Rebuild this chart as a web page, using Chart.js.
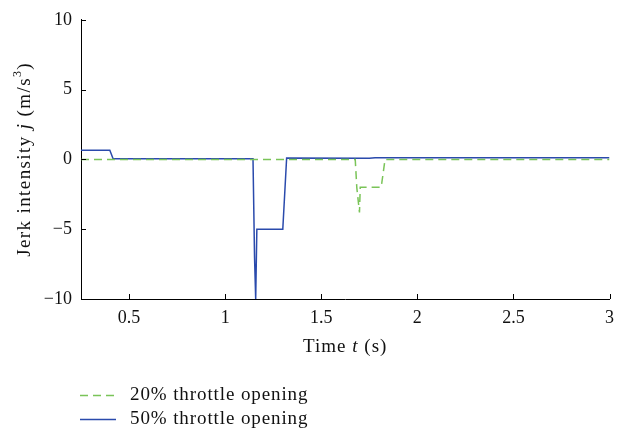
<!DOCTYPE html>
<html>
<head>
<meta charset="utf-8">
<script src="https://cdn.jsdelivr.net/npm/chart.js@4.4.1/dist/chart.umd.min.js"></script>
<style>
  html, body { margin: 0; padding: 0; background: #ffffff; }
  #wrap { width: 622px; height: 440px; position: relative; }
</style>
</head>
<body>
<div id="wrap"><canvas id="c" width="622" height="440"></canvas></div>
<script>
// Jerk intensity over time for two throttle openings
const time50 = [0.25, 0.40, 0.417, 1.145, 1.153, 1.159, 1.165, 1.30, 1.32, 1.75, 1.78, 3.0];
const jerk50 = [0.65, 0.65, 0.05, 0.05, -7.0, -10.0, -5.0, -5.0, 0.1, 0.08, 0.12, 0.12];

const time20 = [0.25, 1.677, 1.685, 1.699, 1.703, 1.812, 1.832, 3.0];
const jerk20 = [0.0, 0.0, -2.0, -3.8, -2.0, -2.0, 0.0, 0.0];

const xTickValues = [0.5, 1, 1.5, 2, 2.5, 3];
const yTickValues = [-10, -5, 0, 5, 10];

const seriesLabels = ['20% throttle opening', '50% throttle opening'];

const SERIF = '"Liberation Serif", "DejaVu Serif", serif';
const FONT_SIZE = 18;
const TEXT_SIZE = 19;
const BLUE = 'rgb(42, 74, 172)';
const GREEN = 'rgb(122, 196, 88)';
const GREEN_DASH = [8, 5];

function toPoints(xs, ys) {
  return xs.map((x, i) => ({ x: x, y: ys[i] }));
}

// Draws inward tick marks, axis titles with italic / superscript parts, and the legend
const decorations = {
  id: 'decorations',
  afterDraw(chart) {
    const ctx = chart.ctx;
    const area = chart.chartArea;
    const xs = chart.scales.x;
    const ys = chart.scales.y;
    ctx.save();

    // inward ticks
    ctx.strokeStyle = '#000';
    ctx.lineWidth = 1;
    ctx.beginPath();
    xTickValues.forEach(v => {
      const px = Math.round(xs.getPixelForValue(v)) + 0.5;
      ctx.moveTo(px, area.bottom);
      ctx.lineTo(px, area.bottom - 5);
    });
    yTickValues.forEach(v => {
      const py = Math.round(ys.getPixelForValue(v)) + 0.5;
      ctx.moveTo(area.left, py);
      ctx.lineTo(area.left + 5, py);
    });
    ctx.stroke();

    ctx.fillStyle = '#111';
    ctx.textBaseline = 'middle';

    // helpers for runs of mixed-style text
    function runsWidth(runs) {
      let w = 0;
      runs.forEach(r => { ctx.font = r.font; w += ctx.measureText(r.text).width; });
      return w;
    }
    function drawRuns(runs, x, y) {
      let cx = x;
      runs.forEach(r => {
        ctx.font = r.font;
        ctx.fillText(r.text, cx, y + (r.dy || 0));
        cx += ctx.measureText(r.text).width;
      });
    }
    const normal = TEXT_SIZE + 'px ' + SERIF;
    const italic = 'italic ' + TEXT_SIZE + 'px ' + SERIF;
    const sup = Math.round(TEXT_SIZE * 0.65) + 'px ' + SERIF;

    ctx.letterSpacing = '1px';

    // x axis title
    const xRuns = [
      { text: 'Time ', font: normal },
      { text: 't', font: italic },
      { text: ' (s)', font: normal }
    ];
    ctx.textAlign = 'left';
    const xw = runsWidth(xRuns);
    drawRuns(xRuns, (area.left + area.right) / 2 - xw / 2, 347);

    // y axis title (rotated)
    const yRuns = [
      { text: 'Jerk intensity ', font: normal },
      { text: 'j', font: italic },
      { text: ' (m/s', font: normal },
      { text: '3', font: sup, dy: -7 },
      { text: ')', font: normal }
    ];
    ctx.letterSpacing = '1.4px';
    const yw = runsWidth(yRuns);
    ctx.save();
    ctx.translate(25, (area.top + area.bottom) / 2);
    ctx.rotate(-Math.PI / 2);
    drawRuns(yRuns, -yw / 2, 0);
    ctx.restore();

    // legend
    ctx.letterSpacing = '0.9px';
    const legendRows = [
      { y: 395, color: GREEN, dash: GREEN_DASH, text: seriesLabels[0] },
      { y: 419, color: BLUE, dash: [], text: seriesLabels[1] }
    ];
    legendRows.forEach(row => {
      ctx.save();
      ctx.strokeStyle = row.color;
      ctx.lineWidth = 1.5;
      ctx.setLineDash(row.dash);
      ctx.beginPath();
      ctx.moveTo(80, row.y + 0.5);
      ctx.lineTo(116, row.y + 0.5);
      ctx.stroke();
      ctx.restore();
      ctx.font = normal;
      ctx.fillStyle = '#111';
      ctx.textAlign = 'left';
      ctx.fillText(row.text, 130, row.y);
    });

    ctx.restore();
  }
};

new Chart(document.getElementById('c'), {
  type: 'line',
  data: {
    datasets: [
      {
        label: seriesLabels[0],
        data: toPoints(time20, jerk20),
        borderColor: GREEN,
        borderWidth: 1.5,
        borderDash: GREEN_DASH,
        pointRadius: 0,
        tension: 0,
        fill: false
      },
      {
        label: seriesLabels[1],
        data: toPoints(time50, jerk50),
        borderColor: BLUE,
        borderWidth: 1.5,
        pointRadius: 0,
        tension: 0,
        fill: false
      }
    ]
  },
  options: {
    responsive: false,
    animation: false,
    events: [],
    layout: { padding: { top: 13, right: 12, left: 0, bottom: 0 } },
    plugins: {
      legend: { display: false },
      tooltip: { enabled: false },
      title: { display: false }
    },
    scales: {
      x: {
        type: 'linear',
        min: 0.25,
        max: 3,
        grid: { display: false, drawTicks: false },
        border: { display: true, color: '#000', width: 1 },
        afterBuildTicks(scale) { scale.ticks = xTickValues.map(v => ({ value: v })); },
        afterFit(scale) { scale.height = 141; },
        ticks: {
          padding: 8,
          color: '#111',
          font: { family: SERIF, size: FONT_SIZE },
          maxRotation: 0,
          autoSkip: false,
          callback: v => String(v)
        }
      },
      y: {
        type: 'linear',
        min: -10,
        max: 10,
        grid: { display: false, drawTicks: false },
        border: { display: true, color: '#000', width: 1 },
        afterBuildTicks(scale) { scale.ticks = yTickValues.map(v => ({ value: v })); },
        afterFit(scale) { scale.width = 81; },
        ticks: {
          padding: 9,
          color: '#111',
          font: { family: SERIF, size: FONT_SIZE },
          autoSkip: false,
          callback: v => (v < 0 ? '\u2212' + Math.abs(v) : String(v))
        }
      }
    }
  },
  plugins: [decorations]
});
</script>
</body>
</html>
